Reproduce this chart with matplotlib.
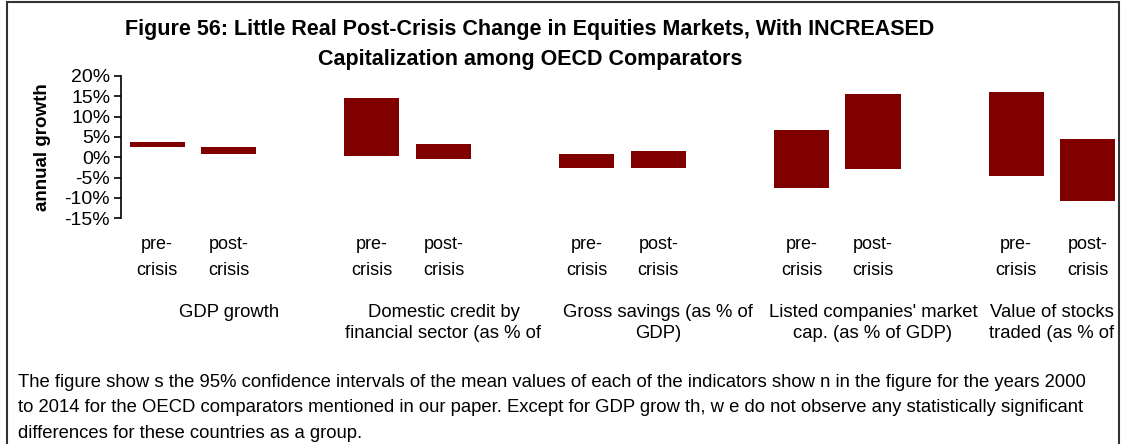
import matplotlib.pyplot as plt
from matplotlib.patches import Rectangle
from matplotlib.ticker import FuncFormatter

plt.rcParams['font.family'] = ['Liberation Sans', 'DejaVu Sans']

# 95% confidence intervals (annual growth, %), pre- and post-crisis
indicators = ["GDP growth",
              "Domestic credit by\nfinancial sector (as % of",
              "Gross savings (as % of\nGDP)",
              "Listed companies' market\ncap. (as % of GDP)",
              "Value of stocks\ntraded (as % of"]
pre_low = [2.5, 0.25, -2.7, -7.55, -4.65]
pre_high = [3.7, 14.5, 0.75, 6.65, 16.0]
post_low = [0.75, -0.5, -2.7, -2.95, -10.8]
post_high = [2.5, 3.2, 1.5, 15.5, 4.45]
period_labels = ["pre-\ncrisis", "post-\ncrisis"]

W, H = 1130, 444
fig = plt.figure(figsize=(W / 100, H / 100), dpi=100)
ax = fig.add_axes([121.3 / W, 1 - 218.3 / H, (1123.6 - 121.3) / W, 142.3 / H])

# each indicator takes three category slots: pre, post, empty gap
n_slots = 3 * len(indicators) - 1
pre_x = [3 * i for i in range(len(indicators))]
post_x = [3 * i + 1 for i in range(len(indicators))]

red = '#800000'
ax.bar(pre_x, [h - l for l, h in zip(pre_low, pre_high)], bottom=pre_low,
       width=0.77, color=red)
ax.bar(post_x, [h - l for l, h in zip(post_low, post_high)], bottom=post_low,
       width=0.77, color=red)

ax.set_xlim(-0.5, n_slots - 0.5)
ax.set_ylim(-15, 20)
ax.set_yticks(range(-15, 21, 5))
ax.yaxis.set_major_formatter(FuncFormatter(lambda v, p: f"{v:.0f}%"))
ax.tick_params(axis='y', direction='out', length=5, width=1.2, labelsize=14, pad=3)
ax.set_xticks([])
for s in ['top', 'right', 'bottom']:
    ax.spines[s].set_visible(False)
ax.spines['left'].set_linewidth(1.2)

ax.set_ylabel('annual growth', fontsize=13.5, fontweight='bold', labelpad=10)

# period labels under each bar
for i in range(len(indicators)):
    for x, lab in zip((pre_x[i], post_x[i]), period_labels):
        ax.text(x, -0.125, lab, transform=ax.get_xaxis_transform(),
                ha='center', va='top', fontsize=13, linespacing=1.7)

# indicator names, centred over the slots each group occupies
for i, name in enumerate(indicators):
    start = 3 * i
    end = min(start + 2, n_slots - 1)
    ax.text((start + end) / 2, -0.6, name, transform=ax.get_xaxis_transform(),
            ha='center', va='top', fontsize=13.3, linespacing=1.35)

fig.text(530 / W, 1 - 30 / H,
         "Figure 56: Little Real Post-Crisis Change in Equities Markets, With INCREASED",
         ha='center', va='center', fontsize=15.5, fontweight='bold')
fig.text(530 / W, 1 - 59 / H, "Capitalization among OECD Comparators",
         ha='center', va='center', fontsize=15.5, fontweight='bold')

note = ["The figure show s the 95% confidence intervals of the mean values of each of the indicators show n in the figure for the years 2000",
        "to 2014 for the OECD comparators mentioned in our paper. Except for GDP grow th, w e do not observe any statistically significant",
        "differences for these countries as a group."]
for k, line in enumerate(note):
    fig.text(18 / W, 1 - (382 + 25.5 * k) / H, line, ha='left', va='center', fontsize=13.3)

# chart frame
fig.patches.append(Rectangle((7 / W, -0.1), (1119 - 7) / W, 1.1 - 2 / H,
                             transform=fig.transFigure, fill=False,
                             edgecolor='#333333', linewidth=1.5))

fig.savefig('out.png', dpi=100)
